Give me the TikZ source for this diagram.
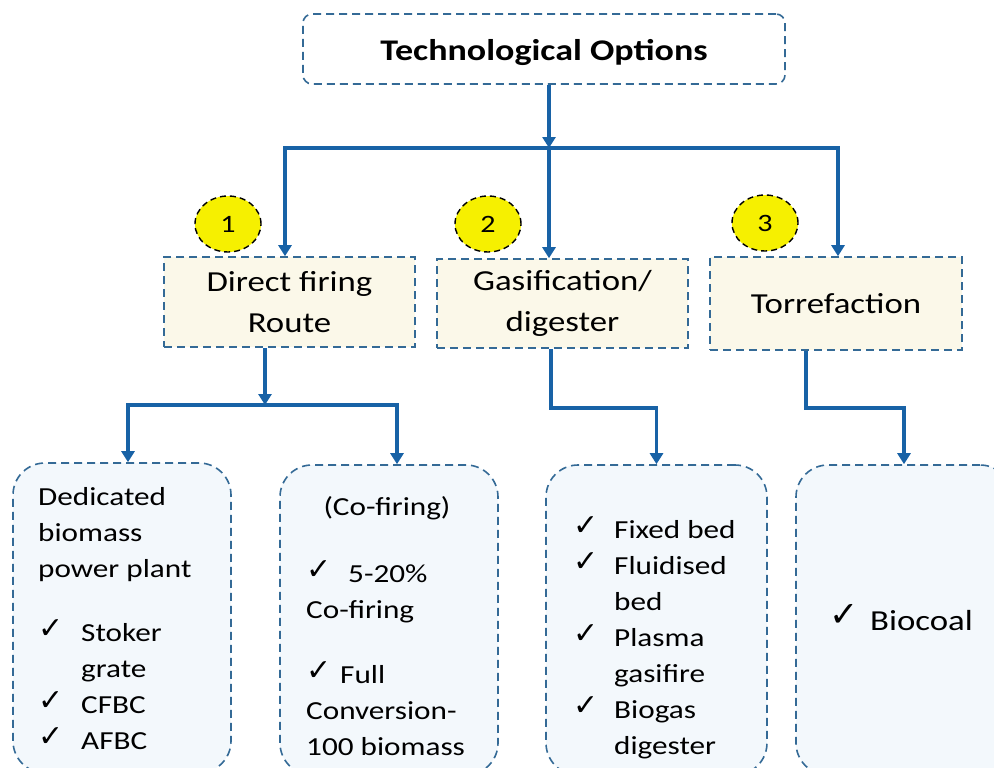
\documentclass[tikz,border=0pt]{standalone}
\usepackage{fontspec}
\setmainfont{Carlito}[FakeStretch=1.2]
\newfontfamily\symfont{DejaVu Sans}
\usetikzlibrary{arrows.meta,shapes.geometric}
\definecolor{conn}{RGB}{24,98,166}
\definecolor{bord}{RGB}{52,106,150}
\definecolor{beige}{RGB}{251,248,233}
\definecolor{pale}{RGB}{243,248,252}
\definecolor{yel}{RGB}{246,240,0}
\newcommand\ck{\raisebox{3pt}{\symfont\fontsize{30}{30}\selectfont ✓}}
\newcommand\bigck{\raisebox{4pt}{\symfont\fontsize{35}{35}\selectfont ✓}}
\begin{document}
\begin{tikzpicture}[x=1pt,y=-1pt,
  connector/.style={draw=conn,line width=3.5pt},
  arrowline/.style={connector,-{Triangle[width=13pt,length=11pt]}},
  dashbox/.style={draw=bord,line width=1.6pt,dash pattern=on 8pt off 5pt},
  topbox/.style={dashbox,fill=white,rounded corners=9pt,minimum width=482pt,minimum height=70pt,inner sep=0,
    text height=24pt,text depth=0pt,font=\fontsize{30}{36}\selectfont\bfseries},
  headbox/.style={dashbox,fill=beige,minimum width=251pt,inner sep=0,align=center,
    font=\fontsize{29}{41}\selectfont},
  leafbox/.style={dashbox,fill=pale,rounded corners=32pt,inner sep=0},
  badge/.style={ellipse,draw=black,line width=1.4pt,dash pattern=on 6pt off 4pt,fill=yel,
    minimum width=66pt,minimum height=56pt,inner sep=0,font=\fontsize{25}{25}\selectfont},
  txt/.style={inner sep=0,font=\fontsize{26}{36}\selectfont}
]
\clip (0,0) rectangle (994,768);

% top
\node[topbox] (top) at (544,49) {Technological Options};

% headers
\node[headbox,minimum height=90pt] (direct) at (289.5,302) {Direct firing\\Route};
\node[headbox,minimum height=89pt] (gas) at (562.5,303.5) {Gasification/\\digester};
\node[headbox,minimum height=93pt,minimum width=252pt] (torr) at (836,303.5) {Torrefaction};

% badges
\node[badge] (n1) at (228,224) {1};
\node[badge] (n2) at (488,224) {2};
\node[badge] (n3) at (765,223) {3};

% leaf boxes
\node[leafbox,minimum width=218pt,minimum height=310pt] (b1) at (122,618) {};
\node[leafbox,minimum width=218pt,minimum height=310pt] (b2) at (389,620) {};
\node[leafbox,minimum width=221pt,minimum height=310pt] (b3) at (656.5,620) {};
\node[leafbox,minimum width=216pt,minimum height=310pt] (b4) at (904,620) {};

% connectors
\coordinate (hub) at (549,148);
\coordinate (hL) at (285,148);
\coordinate (hR) at (838,148);
\draw[arrowline] (top.south -| hub) -- (hub);
\draw[arrowline] (hub) -| (direct.north -| hL);
\draw[arrowline] (hub) -| (torr.north -| hR);
\draw[arrowline] (hub) -- (gas.north -| hub);

\coordinate (dS) at (265,405);
\coordinate (sL) at (128,405);
\coordinate (sR) at (397,405);
\draw[arrowline] (direct.south -| dS) -- (dS);
\draw[arrowline] (dS) -| (b1.north -| sL);
\draw[arrowline] (dS) -| (b2.north -| sR);

\coordinate (gk) at (551,408);
\draw[arrowline] (gas.south -| gk) -- (gk) -| (b3.north);
\coordinate (tk) at (806,408);
\draw[arrowline] (torr.south -| tk) -- (tk) -| (b4.north);

% texts
\node[txt,anchor=base west] (t1) at (38,505) {\begin{tabular}[t]{@{}p{43pt}@{}l@{}}
\multicolumn{2}{@{}l@{}}{Dedicated}\\
\multicolumn{2}{@{}l@{}}{biomass}\\
\multicolumn{2}{@{}l@{}}{power plant}\\[28pt]
\ck & Stoker\\
 & grate\\
\ck & CFBC\\
\ck & AFBC
\end{tabular}};

\node[txt,anchor=base] (c0) at (387,515) {(Co-firing)};
\node[txt,anchor=base west] (t2) at (306,582) {\begin{tabular}[t]{@{}l@{}}
\makebox[42pt][l]{\ck}5-20\%\\
Co-firing\\[29pt]
\makebox[34pt][l]{\ck}Full\\
Conversion-\\
100 biomass
\end{tabular}};

\node[txt,anchor=base west] (t3) at (573,538) {\begin{tabular}[t]{@{}p{41pt}@{}l@{}}
\ck & Fixed bed\\
\ck & Fluidised\\
 & bed\\
\ck & Plasma\\
 & gasifire\\
\ck & Biogas\\
 & digester
\end{tabular}};

\node[txt,anchor=base west,font=\fontsize{29}{36}\selectfont] (t4) at (829,630) {\makebox[41pt][l]{\bigck}Biocoal};
\end{tikzpicture}
\end{document}
